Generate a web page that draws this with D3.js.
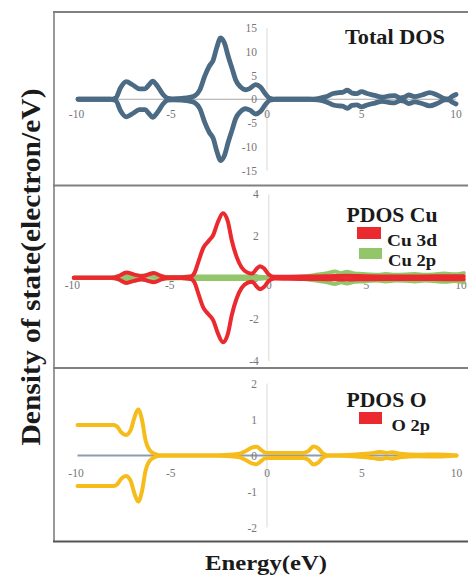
<!DOCTYPE html>
<html><head><meta charset="utf-8">
<script src="https://cdn.jsdelivr.net/npm/d3@7"></script>
<style>html,body{margin:0;padding:0;background:#fff;}svg{display:block;}</style>
</head><body>
<svg id="c" width="468" height="577"></svg>
<script>
// ---- data (energy eV, DOS) ----
const xTicks = [-10, -5, 0, 5, 10];
const totalTicks = [15, 10, 5, 0, -5, -10, -15];
const cuTicks = [4, 2, 0, -2, -4];
const oTicks = [2, 1, 0, -1, -2];

const totalDOS = [[-10,0],[-8.3,0],[-8.0,0.3],[-7.75,2.4],[-7.45,3.7],[-7.1,3.0],[-6.75,2.2],[-6.45,2.2],[-6.25,3.0],[-6.05,3.8],[-5.8,2.8],[-5.5,1.0],[-5.25,0.2],[-5.0,0.1],[-4.5,0.2],[-4.1,0.4],[-3.8,0.8],[-3.55,2.0],[-3.3,4.8],[-3.05,7.0],[-2.85,8.2],[-2.65,11.0],[-2.45,12.9],[-2.25,11.8],[-2.05,9.0],[-1.85,6.5],[-1.65,4.0],[-1.4,2.6],[-1.15,2.0],[-0.9,2.3],[-0.6,3.1],[-0.35,2.6],[-0.1,1.2],[0.15,0.2],[0.5,0],[2.2,0],[2.7,0.15],[3.1,0.5],[3.5,1.2],[3.8,1.4],[4.0,1.45],[4.25,1.9],[4.5,1.3],[4.75,1.2],[5.0,1.6],[5.3,1.2],[5.7,0.8],[6.1,0.45],[6.5,0.7],[6.75,0.75],[7.05,0.3],[7.25,0.4],[7.5,0.9],[7.8,0.55],[8.2,0.9],[8.6,1.4],[9.0,0.9],[9.4,0.15],[9.6,0.1],[9.8,0.6],[10,1.0]];

const cu3d = [[-10,0],[-8,0],[-7.7,0.08],[-7.3,0.25],[-6.9,0.15],[-6.5,0.07],[-6.2,0.15],[-5.9,0.22],[-5.5,0.08],[-5.2,0.02],[-4.5,0.02],[-4.0,0.06],[-3.8,0.25],[-3.6,0.8],[-3.35,1.45],[-3.1,1.75],[-2.85,2.05],[-2.6,2.7],[-2.35,3.1],[-2.1,2.7],[-1.9,1.8],[-1.65,1.0],[-1.4,0.5],[-1.1,0.25],[-0.85,0.2],[-0.6,0.45],[-0.45,0.55],[-0.25,0.45],[0,0.15],[0.3,0.04],[1,0.05],[2,0.06],[3,0.07],[4,0.09],[5,0.07],[6,0.06],[7,0.06],[8,0.06],[9,0.07],[10,0.07]];

const cu2p = [[-10,0],[-8.2,0],[-7.5,0.1],[-7,0.08],[-6.5,0.1],[-6,0.12],[-5.5,0.05],[-4.5,0.03],[-4,0.06],[-3,0.06],[-2,0.06],[-1,0.06],[-0.5,0.05],[0,0.02],[1,0.02],[1.8,0.06],[2.5,0.15],[3,0.22],[3.4,0.3],[3.7,0.22],[4,0.28],[4.4,0.2],[4.8,0.18],[5.2,0.15],[5.6,0.14],[6,0.18],[6.5,0.14],[7,0.15],[7.5,0.18],[8,0.14],[8.5,0.16],[9,0.2],[9.5,0.16],[10,0.22]];

const o2p = [[-10,0.85],[-8.1,0.85],[-7.9,0.8],[-7.7,0.65],[-7.45,0.57],[-7.2,0.7],[-7.0,1.05],[-6.8,1.28],[-6.6,1.0],[-6.4,0.4],[-6.2,0.15],[-5.9,0.04],[-5.5,0],[-3,0],[-2,0.02],[-1.4,0.06],[-1.1,0.13],[-0.8,0.22],[-0.55,0.24],[-0.3,0.15],[-0.1,0.08],[0.2,0.07],[1,0.07],[1.9,0.07],[2.2,0.13],[2.45,0.25],[2.7,0.2],[2.95,0.06],[3.3,0],[4.5,0.02],[5.2,0.05],[5.7,0.08],[6.0,0.1],[6.3,0.07],[6.6,0.09],[7.0,0.05],[8,0.02],[9,0.03],[10,0]];

const W = 468;
const svg = d3.select("#c");
const serif = "'Liberation Serif','Times New Roman',serif";

// frame
const frame = svg.append("g");
frame.append("line").attr("x1",54).attr("x2",54).attr("y1",12).attr("y2",542).attr("stroke","#999").attr("stroke-width",2);
[12,185.5,368,541.5].forEach((yy,i)=>{
  frame.append("line").attr("x1",53).attr("x2",W).attr("y1",yy).attr("y2",yy)
    .attr("stroke", i===3 ? "#555" : "#808080").attr("stroke-width",2);
});

function panel(cfg){
  const x = d3.scaleLinear().domain([-10,10]).range(cfg.xr);
  const y = d3.scaleLinear().domain(cfg.yd).range(cfg.yr);
  const g = svg.append("g");
  // axes lines
  g.append("line").attr("x1",x(0)).attr("x2",x(0)).attr("y1",y(cfg.yd[1])).attr("y2",y(cfg.yd[0]))
    .attr("stroke","#d9d9d9").attr("stroke-width",1);
  g.append("line").attr("x1",x(-10)).attr("x2",x(10)).attr("y1",y(0)).attr("y2",y(0))
    .attr("stroke",cfg.zeroColor||"#a6a6a6").attr("stroke-width",cfg.zeroW||1);
  // y tick labels
  g.selectAll(".yt").data(cfg.yticks).join("text")
    .attr("x", x(0)-10).attr("y", d=>y(d)).attr("dy","0.35em")
    .attr("text-anchor","end").attr("font-family",serif).attr("font-size",11.5)
    .attr("fill","#767676").text(d=>d);
  // x tick labels (kept inside the page)
  g.selectAll(".xt").data(xTicks).join("text")
    .attr("x", d=>Math.min(x(d)+(d<0?-1.5:0), W-7)).attr("y", y(0)+cfg.xlab).attr("dy","0.35em")
    .attr("text-anchor","middle").attr("font-family",serif).attr("font-size",11.5)
    .attr("fill","#767676").text(d=>d);
  // series
  const line = d3.line().x(d=>x(d[0])).y(d=>y(d[1])).curve(d3.curveMonotoneX);
  cfg.series.forEach(s=>{
    [1,-1].forEach(sign=>{
      g.append("path").datum(s.data.map(d=>[d[0], sign*d[1]]))
        .attr("d", line).attr("fill","none").attr("stroke", s.color)
        .attr("stroke-width", s.w).attr("stroke-linejoin","round").attr("stroke-linecap","round");
    });
  });
  return g;
}

panel({xr:[78,456], yd:[-15,15], yr:[170.5,28], yticks: totalTicks, xlab:14.5,
  series:[{data: totalDOS, color:"#4b6a84", w:4.8}]});
panel({xr:[73.8,463.8], yd:[-4,4], yr:[361,194.4], yticks: cuTicks, xlab:7,
  series:[{data: cu2p, color:"#93c56b", w:4},{data: cu3d, color:"#ea2a2e", w:4}]});
panel({xr:[77.5,456.5], yd:[-2,2], yr:[527.5,383.5], yticks: oTicks, xlab:17, zeroColor:"#8c9db2", zeroW:2,
  series:[{data: o2p, color:"#f6bc1c", w:4}]});

// titles & legends
function txt(s, x, y, size, len){
  return svg.append("text").attr("x",x).attr("y",y).attr("font-family",serif)
    .attr("font-weight","bold").attr("font-size",size).attr("fill","#1a1a1a")
    .attr("textLength",len).attr("lengthAdjust","spacingAndGlyphs").text(s);
}
txt("Total DOS", 345, 43.5, 20, 100);
txt("PDOS Cu", 346.5, 222, 20, 91);
svg.append("rect").attr("x",357).attr("y",227).attr("width",24).attr("height",12).attr("fill","#ea2a2e");
txt("Cu 3d", 387, 246, 17, 50);
svg.append("rect").attr("x",359).attr("y",248).attr("width",23).attr("height",11).attr("fill","#93c56b");
txt("Cu 2p", 388, 265.5, 17, 48);
txt("PDOS O", 346.5, 406.5, 20, 80);
svg.append("rect").attr("x",359).attr("y",412).attr("width",23).attr("height",12).attr("fill","#ea2a2e");
txt("O 2p", 391.5, 430.5, 17, 38.5);

txt("Energy(eV)", 205, 570, 22, 122);
svg.append("text").attr("transform","translate(39.5,267) rotate(-90)")
  .attr("text-anchor","middle").attr("font-family",serif).attr("font-weight","bold")
  .attr("font-size",28).attr("fill","#1a1a1a").attr("textLength",357).attr("lengthAdjust","spacingAndGlyphs")
  .text("Density of state(electron/eV)");
</script>
</body></html>
